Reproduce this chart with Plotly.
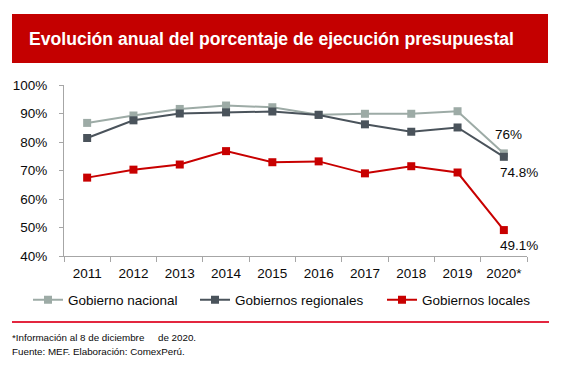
import plotly.graph_objects as go

years = ["2011", "2012", "2013", "2014", "2015", "2016", "2017", "2018", "2019", "2020*"]
gob_nacional = [86.7, 89.3, 91.6, 92.8, 92.2, 89.6, 89.9, 89.9, 90.8, 76.0]
gob_regionales = [81.4, 87.6, 90.0, 90.4, 90.7, 89.5, 86.2, 83.6, 85.1, 74.8]
gob_locales = [67.5, 70.3, 72.1, 76.8, 72.9, 73.2, 69.0, 71.5, 69.3, 49.1]
series_names = ["Gobierno nacional", "Gobiernos regionales", "Gobiernos locales"]

title = "Evolución anual del porcentaje de ejecución presupuestal"
note1 = "*Información al 8 de diciembre\u00a0\u00a0\u00a0\u00a0 de 2020."
note2 = "Fuente: MEF. Elaboración: ComexPerú."

W, H = 566, 366
L, R, T, B = 64, 39, 85, 110
PW, PH = W - L - R, H - T - B

def px(x):
    return (x - L) / PW

def py(y):
    return (H - B - y) / PH

FONT = "Liberation Sans, Arial, sans-serif"
TXT = "#0A0A0A"
C_GN = "#9DABA6"
C_GR = "#4A535B"
C_GL = "#C80000"

fig = go.Figure()
legend_ids = ["legend", "legend2", "legend3"]
legend_x = [28, 195, 382]
for name, vals, col, lid in zip(series_names, [gob_nacional, gob_regionales, gob_locales],
                                [C_GN, C_GR, C_GL], legend_ids):
    fig.add_trace(go.Scatter(x=years, y=vals, name=name, mode="lines+markers",
                             line=dict(color=col, width=2),
                             marker=dict(symbol="square", size=8, color=col),
                             legend=lid))

def fmt(v):
    s = f"{v:.1f}"
    if s.endswith(".0"):
        s = s[:-2]
    return s + "%"

annos = [
    dict(x=years[-1], y=gob_nacional[-1], text=fmt(gob_nacional[-1]), xshift=5, yshift=19),
    dict(x=years[-1], y=gob_regionales[-1], text=fmt(gob_regionales[-1]), xshift=15, yshift=-16),
    dict(x=years[-1], y=gob_locales[-1], text=fmt(gob_locales[-1]), xshift=15, yshift=-15),
]
for a in annos:
    fig.add_annotation(xref="x", yref="y", showarrow=False,
                       font=dict(family=FONT, size=13.5, color=TXT), **a)

# banner
fig.add_shape(type="rect", xref="paper", yref="paper",
              x0=px(12), x1=px(548), y0=py(63), y1=py(14),
              fillcolor="#C40000", line=dict(width=0), layer="below")
fig.add_annotation(xref="paper", yref="paper", x=px(27), y=py(39), xanchor="left", yanchor="middle",
                   text="<b>" + title + "</b>", showarrow=False,
                   font=dict(family=FONT, size=17.6, color="white"))
# separator
fig.add_shape(type="line", xref="paper", yref="paper",
              x0=px(12), x1=px(549), y0=py(322), y1=py(322),
              line=dict(color="#E3263F", width=2))
fig.add_annotation(xref="paper", yref="paper", x=px(10), y=py(337), xanchor="left", yanchor="middle",
                   text=note1, showarrow=False, font=dict(family=FONT, size=9.8, color=TXT))
fig.add_annotation(xref="paper", yref="paper", x=px(10), y=py(351), xanchor="left", yanchor="middle",
                   text=note2, showarrow=False, font=dict(family=FONT, size=9.8, color=TXT))

legend_common = dict(orientation="h", yanchor="middle", xanchor="left",
                     font=dict(family=FONT, size=13.5, color=TXT),
                     bgcolor="rgba(0,0,0,0)", itemwidth=30)
layout_legends = {}
for lid, lx in zip(legend_ids, legend_x):
    layout_legends[lid] = dict(x=px(lx), y=py(300), **legend_common)

fig.update_layout(
    width=W, height=H,
    margin=dict(l=L, r=R, t=T, b=B),
    paper_bgcolor="white", plot_bgcolor="white",
    font=dict(family=FONT, size=13.5, color=TXT),
    showlegend=True,
    xaxis=dict(type="category", range=[-0.5, 9.5], showgrid=False, showline=True,
               linecolor="#A6A6A6", linewidth=1, ticks="outside", tickson="boundaries",
               ticklen=5, tickcolor="#A6A6A6", tickfont=dict(size=13.5), zeroline=False,
               ticklabelstandoff=5),
    yaxis=dict(range=[40, 100], dtick=10, ticksuffix="%", showgrid=False, showline=True,
               linecolor="#A6A6A6", linewidth=1, ticks="outside", ticklen=4,
               tickcolor="#A6A6A6", tickfont=dict(size=13.5), zeroline=False,
               ticklabelstandoff=9),
    **layout_legends,
)

fig.write_html("out.html", config={"displayModeBar": False},
               post_script="document.body.style.margin='0';document.body.style.padding='0';")
